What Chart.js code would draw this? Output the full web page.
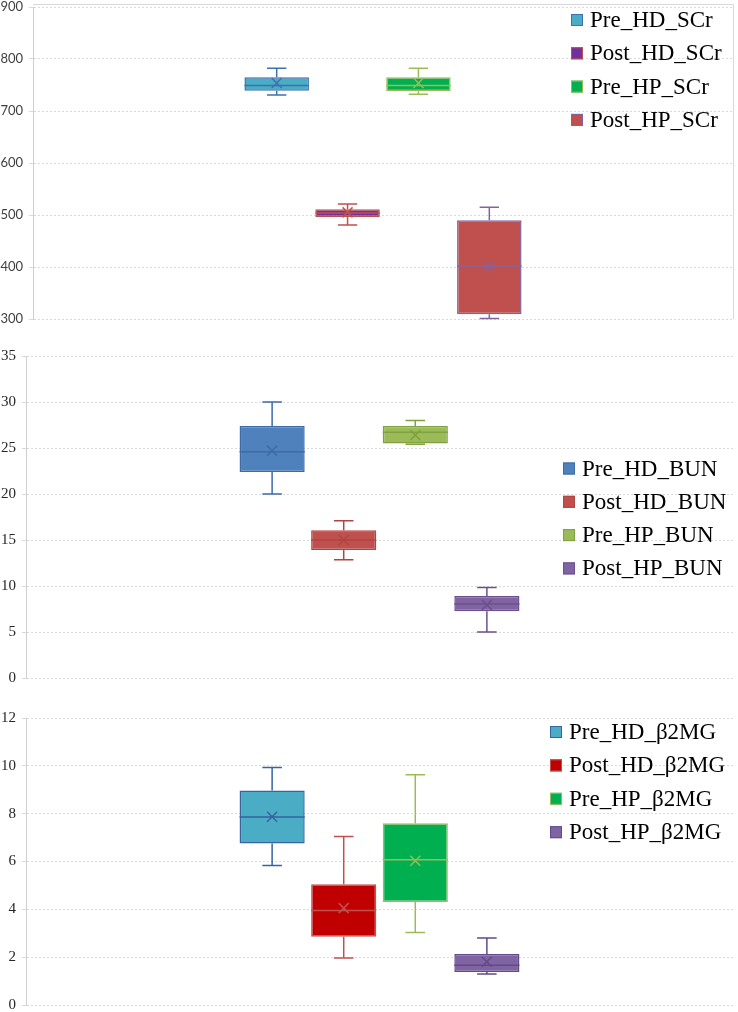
<!DOCTYPE html>
<html>
<head>
<meta charset="utf-8">
<script src="https://cdn.jsdelivr.net/npm/chart.js@4.4.1/dist/chart.umd.min.js"></script>
<style>
  html, body { margin: 0; padding: 0; background: #fff; }
  canvas { display: block; }
</style>
</head>
<body>
<canvas id="scrChart" width="738" height="330"></canvas>
<canvas id="bunChart" width="738" height="360"></canvas>
<canvas id="b2mgChart" width="738" height="322"></canvas>
<script>
// --- serum creatinine
const scrSeries = ['Pre_HD_SCr', 'Post_HD_SCr', 'Pre_HP_SCr', 'Post_HP_SCr'];
const scrMin = [731, 481, 732, 301];
const scrQ1 = [739, 496, 738, 309];
const scrMedian = [749, 504, 749, 402];
const scrQ3 = [765, 511, 765, 490];
const scrMax = [782, 521, 782, 515];
const scrMean = [754, 505, 754, 401];
const scrAxis = { min: 300, max: 900, step: 100 };

// --- blood urea nitrogen
const bunSeries = ['Pre_HD_BUN', 'Post_HD_BUN', 'Pre_HP_BUN', 'Post_HP_BUN'];
const bunMin = [20.0, 12.85, 25.4, 5.0];
const bunQ1 = [22.4, 13.9, 25.5, 7.25];
const bunMedian = [24.6, 15.0, 26.7, 8.05];
const bunQ3 = [27.4, 16.05, 27.4, 8.9];
const bunMax = [30.0, 17.1, 28.0, 9.85];
const bunMean = [24.7, 15.0, 26.4, 7.95];
const bunAxis = { min: 0, max: 35, step: 5 };

// --- beta2 microglobulin
const b2mgSeries = ['Pre_HD_β2MG', 'Post_HD_β2MG', 'Pre_HP_β2MG', 'Post_HP_β2MG'];
const b2mgMin = [5.83, 1.97, 3.03, 1.3];
const b2mgQ1 = [6.75, 2.85, 4.31, 1.38];
const b2mgMedian = [7.86, 3.95, 6.07, 1.66];
const b2mgQ3 = [8.97, 5.05, 7.6, 2.13];
const b2mgMax = [9.93, 7.05, 9.63, 2.8];
const b2mgMean = [7.87, 4.05, 6.03, 1.81];
const b2mgAxis = { min: 0, max: 12, step: 2 };

// colours
const scrFill = ['#4BACC6', '#7030A0', '#00B050', '#C0504D'];
const scrLine = ['#3E6FB0', '#C0504D', '#9BBB59', '#8064A2'];
const bunFill = ['#4F81BD', '#C0504D', '#9BBB59', '#8064A2'];
const bunLine = ['#3D6AA8', '#B04441', '#7FA23F', '#6B4F8E'];
const b2mgFill = ['#4BACC6', '#C00000', '#00B050', '#8064A2'];
const b2mgLine = ['#35649F', '#C0504D', '#9BBB59', '#5F4B8B'];

// whiskers, median and mean drawn on top of the floating bars
const boxExtras = {
  id: 'boxExtras',
  afterDatasetsDraw(chart) {
    const ctx = chart.ctx;
    const y = chart.scales.y;
    chart.data.datasets.forEach((ds, i) => {
      const bar = chart.getDatasetMeta(i).data[0];
      const st = ds.stats;
      const cx = bar.x, half = bar.width / 2, cap = bar.width * 0.15;
      const yMin = y.getPixelForValue(st.min);
      const yQ1 = y.getPixelForValue(st.q1);
      const yMed = y.getPixelForValue(st.median);
      const yQ3 = y.getPixelForValue(st.q3);
      const yMax = y.getPixelForValue(st.max);
      const yMean = y.getPixelForValue(st.mean);
      ctx.save();
      ctx.strokeStyle = ds.borderColor;
      ctx.lineWidth = 1.5;
      ctx.beginPath();
      ctx.moveTo(cx, yQ3); ctx.lineTo(cx, yMax);
      ctx.moveTo(cx - cap, yMax); ctx.lineTo(cx + cap, yMax);
      ctx.moveTo(cx, yQ1); ctx.lineTo(cx, yMin);
      ctx.moveTo(cx - cap, yMin); ctx.lineTo(cx + cap, yMin);
      ctx.moveTo(cx - half, yMed); ctx.lineTo(cx + half, yMed);
      const m = 5;
      ctx.moveTo(cx - m, yMean - m); ctx.lineTo(cx + m, yMean + m);
      ctx.moveTo(cx + m, yMean - m); ctx.lineTo(cx - m, yMean + m);
      ctx.stroke();
      ctx.restore();
    });
  }
};

// legend placed inside the plot like the original
const sideLegend = {
  id: 'sideLegend',
  afterDraw(chart, args, opts) {
    if (!opts || opts.left === undefined) return;
    const ctx = chart.ctx;
    ctx.save();
    ctx.font = opts.font;
    ctx.textBaseline = 'middle';
    ctx.textAlign = 'left';
    chart.data.datasets.forEach((ds, i) => {
      const cy = opts.top + i * opts.step;
      ctx.fillStyle = ds.backgroundColor;
      ctx.fillRect(opts.left, cy - 6, 12, 12);
      ctx.strokeStyle = ds.borderColor;
      ctx.lineWidth = 1;
      ctx.strokeRect(opts.left + 0.5, cy - 5.5, 11, 11);
      ctx.fillStyle = '#000';
      ctx.fillText(ds.label, opts.left + 19, cy + 1);
    });
    ctx.restore();
  }
};

const panelFrame = {
  id: 'panelFrame',
  beforeDatasetsDraw(chart, args, opts) {
    if (!opts || !opts.show) return;
    const a = chart.chartArea;
    const ctx = chart.ctx;
    ctx.save();
    ctx.strokeStyle = '#d9d9d9';
    ctx.lineWidth = 1;
    ctx.beginPath();
    ctx.moveTo(a.left, a.top - 2.5);
    ctx.lineTo(a.right + 0.5, a.top - 2.5);
    ctx.lineTo(a.right + 0.5, a.bottom);
    ctx.stroke();
    ctx.restore();
  }
};

Chart.register(boxExtras, sideLegend, panelFrame);

function makeBoxChart(id, series, mins, q1s, meds, q3s, maxs, means, fills, lines, axis, opts) {
  const datasets = series.map((name, i) => ({
    label: name,
    data: [[q1s[i], q3s[i]]],
    backgroundColor: fills[i],
    borderColor: lines[i],
    borderWidth: 1.5,
    borderSkipped: false,
    categoryPercentage: 0.405,
    barPercentage: 0.91,
    stats: { min: mins[i], q1: q1s[i], median: meds[i], q3: q3s[i], max: maxs[i], mean: means[i] }
  }));
  return new Chart(document.getElementById(id), {
    type: 'bar',
    data: { labels: [''], datasets: datasets },
    options: {
      responsive: false,
      animation: false,
      layout: { padding: opts.padding },
      plugins: {
        legend: { display: false },
        tooltip: { enabled: false },
        sideLegend: opts.legend,
        panelFrame: { show: !!opts.frame }
      },
      scales: {
        x: { display: false },
        y: {
          min: axis.min,
          max: axis.max,
          ticks: {
            stepSize: axis.step,
            padding: 6,
            color: opts.tickColor,
            font: opts.tickFont
          },
          grid: { color: '#d9d9d9', tickLength: 4, lineWidth: 1 },
          border: { display: true, color: '#cfcfcf', dash: [2, 2] },
          afterFit(scale) {
            scale.width = opts.axisWidth;
            scale.paddingTop = 0;
            scale.paddingBottom = 0;
          }
        }
      }
    }
  });
}

makeBoxChart('scrChart', scrSeries, scrMin, scrQ1, scrMedian, scrQ3, scrMax, scrMean, scrFill, scrLine, scrAxis, {
  padding: { top: 7, bottom: 11, right: 5, left: 0 },
  axisWidth: 33,
  tickColor: '#404040',
  tickFont: { family: 'Lato', size: 13 },
  frame: true,
  legend: { left: 571, top: 20, step: 33.3, font: '23px "Liberation Serif"' }
});

makeBoxChart('bunChart', bunSeries, bunMin, bunQ1, bunMedian, bunQ3, bunMax, bunMean, bunFill, bunLine, bunAxis, {
  padding: { top: 26, bottom: 12, right: 5, left: 0 },
  axisWidth: 26,
  tickColor: '#262626',
  tickFont: { family: 'Liberation Serif', size: 15 },
  legend: { left: 563, top: 138.5, step: 33.3, font: '23px "Liberation Serif"' }
});

makeBoxChart('b2mgChart', b2mgSeries, b2mgMin, b2mgQ1, b2mgMedian, b2mgQ3, b2mgMax, b2mgMean, b2mgFill, b2mgLine, b2mgAxis, {
  padding: { top: 28, bottom: 7, right: 5, left: 0 },
  axisWidth: 26,
  tickColor: '#262626',
  tickFont: { family: 'Liberation Serif', size: 15 },
  legend: { left: 550, top: 42, step: 33.4, font: '23px "Liberation Serif"' }
});
</script>
</body>
</html>
